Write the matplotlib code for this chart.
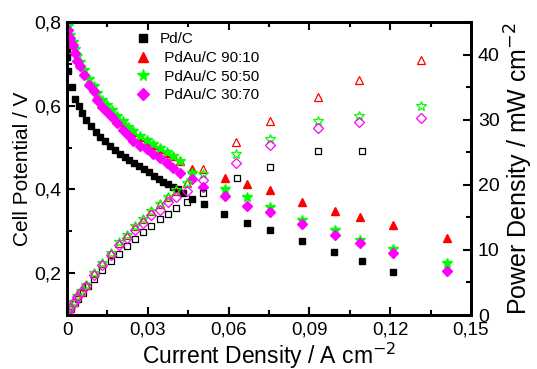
import matplotlib
matplotlib.use('Agg')
import matplotlib.pyplot as plt
from matplotlib.ticker import MultipleLocator, FuncFormatter

plt.rcParams['font.family'] = ['Liberation Sans', 'DejaVu Sans']

# polarization curves (filled markers), j in A cm-2, V in volts
j_pdc = [0.0000, 0.0001, 0.0002, 0.0019, 0.0031, 0.0043, 0.0056, 0.0072, 0.0089, 0.0106,
         0.0124, 0.0142, 0.0160, 0.0178, 0.0196, 0.0214, 0.0232, 0.0250, 0.0268, 0.0286,
         0.0304, 0.0322, 0.0340, 0.0358, 0.0376, 0.0394, 0.0412, 0.0432, 0.0463, 0.0509,
         0.0583, 0.0668, 0.0754, 0.0872, 0.0991, 0.1095, 0.1211]
v_pdc = [0.736, 0.716, 0.684, 0.644, 0.616, 0.600, 0.582, 0.566, 0.551, 0.538,
         0.526, 0.515, 0.504, 0.494, 0.485, 0.477, 0.470, 0.463, 0.456, 0.449,
         0.441, 0.433, 0.425, 0.418, 0.412, 0.406, 0.400, 0.392, 0.378, 0.366,
         0.341, 0.321, 0.302, 0.278, 0.251, 0.229, 0.203]

j_au = [0.0004, 0.0012, 0.0021, 0.0031, 0.0037, 0.0049, 0.0062, 0.0081, 0.0099, 0.0111,
        0.0131, 0.0150, 0.0168, 0.0187, 0.0208, 0.0227, 0.0246, 0.0271, 0.0296, 0.0320,
        0.0345, 0.0370, 0.0395, 0.0420, 0.0463,
        0.0587, 0.0668, 0.0754, 0.0873, 0.0995, 0.1088, 0.1211, 0.1411]
v_9010 = [0.775, 0.760, 0.748, 0.730, 0.714, 0.700, 0.682, 0.660, 0.643, 0.626,
          0.610, 0.598, 0.586, 0.573, 0.560, 0.548, 0.537, 0.526, 0.516, 0.506,
          0.497, 0.488, 0.479, 0.468, 0.448,
          0.428, 0.412, 0.398, 0.371, 0.349, 0.333, 0.315, 0.284]
v_5050 = [0.790, 0.768, 0.752, 0.735, 0.718, 0.704, 0.686, 0.664, 0.646, 0.630,
          0.614, 0.601, 0.589, 0.576, 0.563, 0.550, 0.539, 0.528, 0.518, 0.508,
          0.499, 0.489, 0.480, 0.469, 0.440,
          0.402, 0.381, 0.358, 0.326, 0.304, 0.279, 0.258, 0.224]
v_3070 = [0.782, 0.762, 0.746, 0.726, 0.706, 0.694, 0.674, 0.650, 0.634, 0.614,
          0.596, 0.584, 0.572, 0.558, 0.543, 0.529, 0.516, 0.504, 0.496, 0.484,
          0.476, 0.464, 0.452, 0.440, 0.424,
          0.385, 0.361, 0.345, 0.318, 0.292, 0.273, 0.248, 0.204]
j_3070_extra = [0.0506]
v_3070_extra = [0.406]

# power density curves (open markers), mW cm-2
jp_pdc = [0.0005, 0.0015, 0.0028, 0.0042, 0.0058, 0.0078, 0.0100, 0.0131, 0.0162, 0.0193,
          0.0224, 0.0253, 0.0283, 0.0313, 0.0344, 0.0375, 0.0406, 0.0446, 0.0506, 0.0630,
          0.0753, 0.0933, 0.1095]
p_pdc = [0.4, 1.0, 1.8, 2.5, 3.4, 4.4, 5.5, 6.9, 8.3, 9.4,
         10.6, 11.7, 12.7, 13.7, 14.7, 15.5, 16.4, 17.4, 18.7, 21.0,
         22.8, 25.2, 25.2]

jp_au = [0.0004, 0.0011, 0.0026, 0.0038, 0.0053, 0.0069, 0.0100, 0.0131, 0.0162, 0.0193,
         0.0222, 0.0251, 0.0282, 0.0313, 0.0344, 0.0375, 0.0406, 0.0444,
         0.0506, 0.0628, 0.0752, 0.0933, 0.1085, 0.1313]
p_9010 = [0.4, 1.1, 2.05, 2.85, 3.6, 4.6, 6.4, 8.0, 9.6, 11.1,
          12.3, 13.6, 14.8, 16.0, 17.0, 18.1, 19.1, 20.2,
          22.5, 26.6, 29.8, 33.5, 36.1, 39.2]
p_5050 = [0.4, 1.1, 2.05, 2.85, 3.65, 4.65, 6.45, 8.05, 9.6, 11.15,
          12.35, 13.6, 14.8, 16.0, 17.1, 18.1, 19.2, 20.2,
          21.7, 24.8, 27.0, 29.8, 30.5, 32.1]
p_3070 = [0.4, 1.07, 2.0, 2.76, 3.5, 4.5, 6.2, 7.7, 9.2, 10.7,
          11.8, 13.0, 14.1, 15.3, 16.2, 17.3, 18.2, 19.1,
          20.7, 23.3, 26.1, 28.7, 29.6, 30.2]

comma = FuncFormatter(lambda v, pos: ('%g' % round(v, 3)).replace('.', ','))

fig = plt.figure(figsize=(5.37, 3.69), dpi=100)
ax = fig.add_axes([0.1248, 0.1463, 0.7522, 0.7941])
ax2 = ax.twinx()

ms = 5.5
ax.plot(j_pdc, v_pdc, 's', color='black', ms=5, mec='black', label='Pd/C')
ax.plot(j_au, v_9010, '^', color='red', ms=ms, mec='red', label=' PdAu/C 90:10')
ax.plot(j_au, v_5050, '*', color='#00ff00', ms=ms + 1.5, mec='#00ff00', label=' PdAu/C 50:50')
ax.plot(j_au, v_3070, 'D', color='#ff00ff', ms=ms - 0.8, mec='#ff00ff', label=' PdAu/C 30:70')
ax.plot(j_3070_extra, v_3070_extra, 'D', color='#ff00ff', ms=ms - 0.8, mec='#ff00ff')

ax2.plot(jp_pdc, p_pdc, 's', mfc='none', mec='black', ms=5, mew=0.9)
ax2.plot(jp_au, p_9010, '^', mfc='none', mec='red', ms=ms, mew=0.9)
ax2.plot(jp_au, p_5050, '*', mfc='none', mec='#00ff00', ms=ms + 1.5, mew=0.9)
ax2.plot(jp_au, p_3070, 'D', mfc='none', mec='#ff00ff', ms=ms - 0.8, mew=0.9)

ax.set_xlim(0, 0.15)
ax.set_ylim(0.1, 0.8)
ax2.set_ylim(0, 45)

ax.xaxis.set_major_locator(MultipleLocator(0.03))
ax.xaxis.set_minor_locator(MultipleLocator(0.015))
ax.yaxis.set_major_locator(MultipleLocator(0.2))
ax.yaxis.set_minor_locator(MultipleLocator(0.1))
ax2.yaxis.set_major_locator(MultipleLocator(10))
ax2.yaxis.set_minor_locator(MultipleLocator(5))
ax.xaxis.set_major_formatter(comma)
ax.yaxis.set_major_formatter(comma)

ax.tick_params(axis='x', which='both', direction='in', top=True, labelsize=13.5, width=1.5, pad=5)
ax.tick_params(axis='y', which='both', direction='in', labelsize=14, width=1.5, pad=4)
ax2.tick_params(axis='y', which='both', direction='in', labelsize=14, width=1.5, pad=5)
for a in (ax, ax2):
    a.tick_params(which='major', length=6)
    a.tick_params(which='minor', length=3.5)
    for s in a.spines.values():
        s.set_linewidth(2)

ax.set_xlabel('Current Density / A cm$^{-2}$', fontsize=16.5, labelpad=1)
ax.set_ylabel('Cell Potential / V', fontsize=15, labelpad=2)
ax2.set_ylabel('Power Density / mW cm$^{-2}$', fontsize=18, labelpad=2)

ax.legend(loc='upper left', bbox_to_anchor=(0.151, 0.985), frameon=False, fontsize=11,
          handletextpad=0.5, labelspacing=0.3, borderaxespad=0, handlelength=1.2,
          markerscale=1.2)

fig.savefig('out.png', dpi=100)
